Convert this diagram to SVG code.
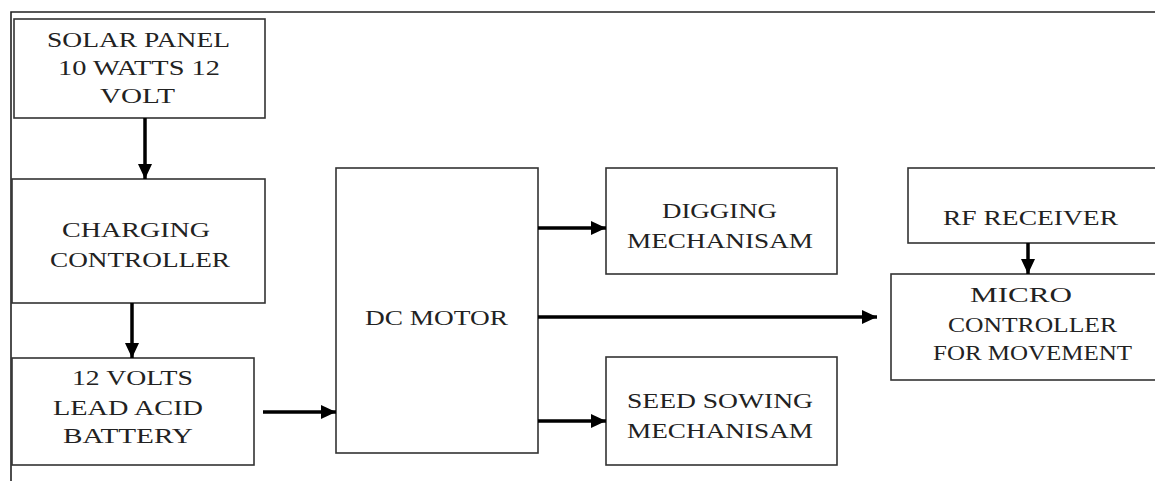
<svg xmlns="http://www.w3.org/2000/svg" width="1155" height="481" viewBox="0 0 1155 481">
<defs>
<style>
.box{fill:#fff;stroke:#333;stroke-width:1.6}
.t{font-family:"Liberation Serif","Times New Roman",serif;font-size:22px;fill:#222}
.c{stroke:#000;stroke-width:3.5;fill:none}
.frame{stroke:#222;stroke-width:1.6;fill:none}
</style>
<marker id="ah" markerUnits="userSpaceOnUse" markerWidth="16" markerHeight="14" refX="15" refY="7" orient="auto">
<path d="M0,0 L15,7 L0,14 Z" fill="#000"/>
</marker>
</defs>
<rect width="1155" height="481" fill="#fff"/>
<path class="frame" d="M11,481 V12 H1155"/>
<g id="solar">
<rect class="box" x="14" y="19" width="251" height="99"/>
<text class="t" x="47" y="47" textLength="183" lengthAdjust="spacingAndGlyphs">SOLAR PANEL</text>
<text class="t" x="58" y="75" textLength="162" lengthAdjust="spacingAndGlyphs">10 WATTS 12</text>
<text class="t" x="100" y="103" textLength="75" lengthAdjust="spacingAndGlyphs">VOLT</text>
</g>
<g id="charging">
<rect class="box" x="12" y="179" width="253" height="124"/>
<text class="t" x="62" y="237" textLength="148" lengthAdjust="spacingAndGlyphs">CHARGING</text>
<text class="t" x="50" y="267" textLength="180" lengthAdjust="spacingAndGlyphs">CONTROLLER</text>
</g>
<g id="battery">
<rect class="box" x="12" y="358" width="242" height="107"/>
<text class="t" x="72" y="385" textLength="121" lengthAdjust="spacingAndGlyphs">12 VOLTS</text>
<text class="t" x="53" y="415" textLength="150" lengthAdjust="spacingAndGlyphs">LEAD ACID</text>
<text class="t" x="63" y="443" textLength="130" lengthAdjust="spacingAndGlyphs">BATTERY</text>
</g>
<g id="dcmotor">
<rect class="box" x="336" y="168" width="202" height="285"/>
<text class="t" x="365" y="325" textLength="143" lengthAdjust="spacingAndGlyphs">DC MOTOR</text>
</g>
<g id="digging">
<rect class="box" x="606" y="168" width="231" height="106"/>
<text class="t" x="662" y="218" textLength="115" lengthAdjust="spacingAndGlyphs">DIGGING</text>
<text class="t" x="627" y="248" textLength="186" lengthAdjust="spacingAndGlyphs">MECHANISAM</text>
</g>
<g id="seed">
<rect class="box" x="606" y="357" width="231" height="108"/>
<text class="t" x="627" y="408" textLength="186" lengthAdjust="spacingAndGlyphs">SEED SOWING</text>
<text class="t" x="627" y="438" textLength="186" lengthAdjust="spacingAndGlyphs">MECHANISAM</text>
</g>
<g id="rf">
<rect class="box" x="908" y="168" width="260" height="75"/>
<text class="t" x="943" y="225" textLength="175" lengthAdjust="spacingAndGlyphs">RF RECEIVER</text>
</g>
<g id="micro">
<rect class="box" x="891" y="274" width="277" height="106"/>
<text class="t" x="970" y="302" textLength="102" lengthAdjust="spacingAndGlyphs">MICRO</text>
<text class="t" x="948" y="332" textLength="169" lengthAdjust="spacingAndGlyphs">CONTROLLER</text>
<text class="t" x="933" y="360" textLength="199" lengthAdjust="spacingAndGlyphs">FOR MOVEMENT</text>
</g>
<g id="connectors">
<line class="c" x1="145" y1="118" x2="145" y2="179" marker-end="url(#ah)"/>
<line class="c" x1="132" y1="303" x2="132" y2="358" marker-end="url(#ah)"/>
<line class="c" x1="263" y1="412" x2="336" y2="412" stroke-width="3" marker-end="url(#ah)"/>
<line class="c" x1="538" y1="228" x2="606" y2="228" stroke-width="3" marker-end="url(#ah)"/>
<line class="c" x1="538" y1="317" x2="877" y2="317" marker-end="url(#ah)"/>
<line class="c" x1="538" y1="421" x2="606" y2="421" marker-end="url(#ah)"/>
<line class="c" x1="1028" y1="243" x2="1028" y2="274" stroke-width="3" marker-end="url(#ah)"/>
</g>
</svg>
